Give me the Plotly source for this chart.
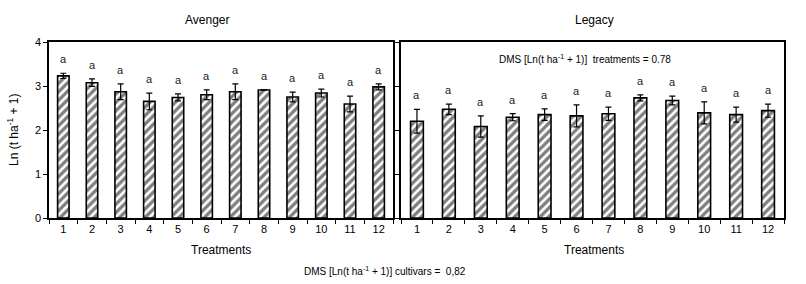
import plotly.graph_objects as go

treatments = [str(i) for i in range(1, 13)]
avenger_mean = [3.23, 3.075, 2.87, 2.65, 2.74, 2.80, 2.87, 2.91, 2.75, 2.84, 2.59, 2.98]
avenger_err = [0.06, 0.085, 0.18, 0.19, 0.08, 0.11, 0.18, 0.0, 0.11, 0.09, 0.18, 0.07]
legacy_mean = [2.20, 2.47, 2.08, 2.29, 2.35, 2.32, 2.37, 2.73, 2.67, 2.39, 2.35, 2.44]
legacy_err = [0.27, 0.12, 0.24, 0.08, 0.13, 0.25, 0.15, 0.07, 0.10, 0.25, 0.17, 0.15]
avenger_letters = ["a"] * 12
legacy_letters = ["a"] * 12

FONT = "Liberation Sans Narrow, Arial Narrow, Liberation Sans, Arial, sans-serif"

fig = go.Figure()

def add_bars(means, errs, xa, ya):
    fig.add_trace(go.Bar(
        x=treatments, y=means, xaxis=xa, yaxis=ya, width=0.4,
        marker=dict(color="white", line=dict(color="black", width=1.6),
                    pattern=dict(shape="/", fgcolor="black", bgcolor="white",
                                 size=6, solidity=0.55)),
        error_y=dict(type="data", array=errs, visible=True, color="black",
                     thickness=1.2, width=3),
        showlegend=False))

add_bars(avenger_mean, avenger_err, "x", "y")
add_bars(legacy_mean, legacy_err, "x2", "y2")

annotations = []
for xs, ms, es, ls, xr, yr in [
    (treatments, avenger_mean, avenger_err, avenger_letters, "x", "y"),
    (treatments, legacy_mean, legacy_err, legacy_letters, "x2", "y2"),
]:
    for i, (t, m, e, l) in enumerate(zip(xs, ms, es, ls)):
        annotations.append(dict(x=i, y=m + e + 0.32, xref=xr, yref=yr, text=l,
                                xanchor="center", yanchor="middle",
                                showarrow=False, font=dict(size=11, color="#222")))

def paper_text(px, py, text, size, angle=0):
    return dict(x=px / 806, y=1 - py / 284, xref="paper", yref="paper", text=text,
                xanchor="center", yanchor="middle", textangle=angle,
                showarrow=False, font=dict(size=size))

annotations += [
    paper_text(207, 20, "Avenger", 12),
    paper_text(594, 20, "Legacy", 12),
    paper_text(221, 250, "Treatments", 12),
    paper_text(594, 250, "Treatments", 12),
    paper_text(13, 130, "Ln (t ha<sup>-1</sup> + 1)", 12, -90),
    paper_text(585, 59, "DMS [Ln(t ha<sup>-1</sup> + 1)]  treatments = 0.78", 10),
    paper_text(385, 271, "DMS [Ln(t ha<sup>-1</sup> + 1)] cultivars =  0,82", 10),
]

ydom = [1 - 218 / 284, 1 - 42 / 284]
axis_common = dict(showline=True, linecolor="black", linewidth=1.5, mirror=True,
                   showgrid=False, zeroline=False, ticks="outside", ticklen=4,
                   tickcolor="black", tickfont=dict(size=11, color="black"),
                   automargin=False)

fig.update_layout(
    width=806, height=284,
    margin=dict(l=0, r=0, t=0, b=0, pad=0, autoexpand=False),
    paper_bgcolor="white", plot_bgcolor="white",
    font=dict(family=FONT, color="black"),
    xaxis=dict(domain=[49 / 806, 393 / 806], anchor="y", type="category",
               tickson="boundaries", range=[-0.5, 11.5], **axis_common),
    yaxis=dict(domain=ydom, anchor="x", range=[0, 4], dtick=1, **axis_common),
    xaxis2=dict(domain=[401 / 806, 784 / 806], anchor="y2", type="category",
                tickson="boundaries", range=[-0.5, 11.5], **axis_common),
    yaxis2=dict(domain=ydom, anchor="x2", range=[0, 4], dtick=1,
                showticklabels=False, **axis_common),
    annotations=annotations,
)

fig.write_html("out.html")
